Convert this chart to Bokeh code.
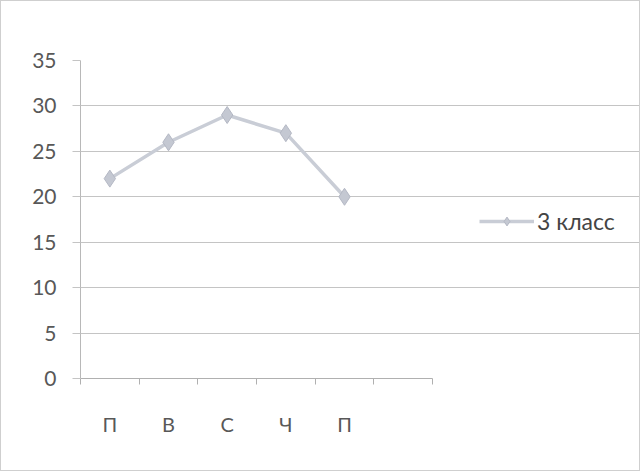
from bokeh.plotting import figure
from bokeh.models import FixedTicker, Range1d, Legend, LegendItem
from bokeh.embed import file_html
from bokeh.resources import INLINE

# data
days = ["П", "В", "С", "Ч", "П"]
values_3 = [22, 26, 29, 27, 20]
series_name = "3 класс"
y_ticks = [0, 5, 10, 15, 20, 25, 30, 35]

x_pos = [i + 0.5 for i in range(len(days))]
n_slots = 6

FONT = "Lato"
TEXT_COLOR = "#585858"
GRID = "#c4c4c4"

W, H = 640, 471
LEFT, TOP, BOTTOM = 79, 59, 94
slot_px = 352 / n_slots
x_end = (W - LEFT) / slot_px

p = figure(width=W, height=H, output_backend="svg", toolbar_location=None,
           x_range=Range1d(0, x_end), y_range=Range1d(0, 35),
           min_border_left=LEFT, min_border_top=TOP, min_border_bottom=BOTTOM,
           min_border_right=0)
p.styles = {"border": "1px solid #cfcfcf"}
p.outline_line_color = None
p.background_fill_color = "white"
p.border_fill_color = "white"

# x axis
p.xaxis.bounds = (0, n_slots)
p.xaxis.ticker = FixedTicker(ticks=x_pos, minor_ticks=list(range(n_slots + 1)))
p.xaxis.major_label_overrides = {x: d for x, d in zip(x_pos, days)}
p.xaxis.major_tick_line_color = None
p.xaxis.major_tick_out = 6
p.xaxis.major_tick_in = 0
p.xaxis.minor_tick_line_color = "#b0b0b0"
p.xaxis.minor_tick_out = 6
p.xaxis.minor_tick_in = 0
p.xaxis.axis_line_color = "#b0b0b0"
p.xaxis.major_label_standoff = 27
p.xaxis.major_label_text_font = FONT
p.xaxis.major_label_text_font_size = "20px"
p.xaxis.major_label_text_color = TEXT_COLOR
p.xgrid.grid_line_color = None

# y axis
p.yaxis.ticker = FixedTicker(ticks=y_ticks)
p.yaxis.axis_line_color = "#b8b8b8"
p.yaxis.major_tick_line_color = GRID
p.yaxis.major_tick_out = 8
p.yaxis.major_tick_in = 0
p.yaxis.minor_tick_line_color = None
p.yaxis.major_label_standoff = 16
p.yaxis.major_label_text_font = FONT
p.yaxis.major_label_text_font_size = "21px"
p.yaxis.major_label_text_color = TEXT_COLOR
p.ygrid.ticker = FixedTicker(ticks=y_ticks)
p.ygrid.bounds = (0, n_slots)
p.ygrid.grid_line_color = GRID
p.ygrid.grid_line_width = 1

line = p.line(x_pos, values_3, line_color="#c9cdd6", line_width=3.5)
marks = p.scatter(x_pos, values_3, marker="diamond", size=17,
                  fill_color="#c4c8d2", line_color="#b4b8c4", line_width=1)

legend = Legend(items=[LegendItem(label=series_name, renderers=[line, marks])],
                location=(399, 143), orientation="vertical")
legend.margin = 0
legend.padding = 8
legend.border_line_color = None
legend.background_fill_alpha = 0
legend.glyph_width = 55
legend.glyph_height = 22
legend.label_standoff = 3
legend.label_text_font = FONT
legend.label_text_font_size = "23px"
legend.label_text_color = "#444444"
p.add_layout(legend, "center")

open("out.html", "w").write(file_html(p, INLINE))
